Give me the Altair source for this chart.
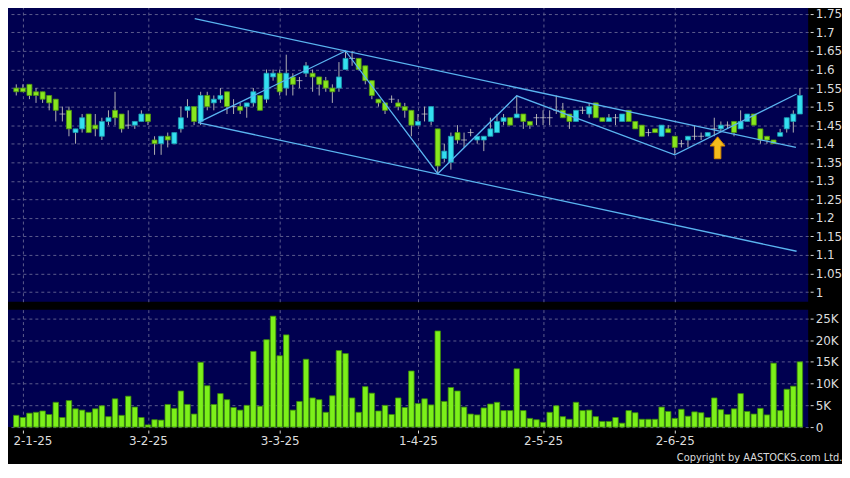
import json
import altair as alt
import pandas as pd

# ---------------- data ----------------
OPEN = [1.55, 1.55, 1.56, 1.54, 1.54, 1.53, 1.52, 1.48, 1.49, 1.43,
        1.44, 1.48, 1.45, 1.42, 1.46, 1.49, 1.48, 1.45, 1.45, 1.46,
        1.48, 1.41, 1.40, 1.42, 1.40, 1.44, 1.49, 1.50, 1.46, 1.53,
        1.51, 1.52, 1.54, 1.50, 1.50, 1.50, 1.51, 1.53, 1.52, 1.58,
        1.59, 1.55, 1.58, 1.57, 1.59, 1.59, 1.58, 1.57, 1.55, 1.55,
        1.60, 1.63, 1.63, 1.61, 1.57, 1.52, 1.51, 1.52, 1.51, 1.50,
        1.49, 1.45, 1.48, 1.46, 1.44, 1.36, 1.35, 1.43, 1.41, 1.43,
        1.41, 1.41, 1.42, 1.43, 1.46, 1.47, 1.47, 1.48, 1.46, 1.47,
        1.47, 1.47, 1.49, 1.49, 1.48, 1.46, 1.49, 1.48, 1.51, 1.47,
        1.46, 1.47, 1.46, 1.49, 1.46, 1.45, 1.43, 1.44, 1.42, 1.44,
        1.42, 1.40, 1.41, 1.42, 1.42, 1.42, 1.44, 1.44, 1.45, 1.46,
        1.44, 1.46, 1.48, 1.44, 1.42, 1.41, 1.42, 1.44, 1.46, 1.48]
HIGH = [1.56, 1.56, 1.56, 1.55, 1.54, 1.53, 1.52, 1.50, 1.50, 1.44,
        1.48, 1.48, 1.48, 1.47, 1.49, 1.54, 1.48, 1.49, 1.46, 1.49,
        1.48, 1.42, 1.42, 1.43, 1.43, 1.50, 1.52, 1.50, 1.54, 1.54,
        1.53, 1.55, 1.54, 1.52, 1.51, 1.51, 1.55, 1.53, 1.60, 1.60,
        1.60, 1.64, 1.59, 1.58, 1.62, 1.60, 1.58, 1.58, 1.56, 1.62,
        1.65, 1.65, 1.63, 1.61, 1.57, 1.52, 1.51, 1.53, 1.52, 1.51,
        1.49, 1.48, 1.50, 1.50, 1.44, 1.40, 1.43, 1.45, 1.43, 1.44,
        1.42, 1.42, 1.47, 1.48, 1.48, 1.47, 1.53, 1.48, 1.46, 1.48,
        1.49, 1.49, 1.53, 1.51, 1.48, 1.49, 1.50, 1.51, 1.51, 1.47,
        1.48, 1.48, 1.48, 1.49, 1.46, 1.45, 1.44, 1.44, 1.45, 1.45,
        1.42, 1.41, 1.42, 1.45, 1.43, 1.43, 1.47, 1.46, 1.46, 1.46,
        1.49, 1.48, 1.48, 1.44, 1.42, 1.41, 1.44, 1.47, 1.49, 1.55]
LOW = [1.53, 1.54, 1.52, 1.51, 1.51, 1.49, 1.46, 1.46, 1.42, 1.40,
       1.43, 1.43, 1.42, 1.41, 1.45, 1.45, 1.43, 1.44, 1.44, 1.46,
       1.45, 1.37, 1.37, 1.39, 1.40, 1.43, 1.47, 1.45, 1.45, 1.49,
       1.49, 1.51, 1.48, 1.48, 1.48, 1.47, 1.50, 1.49, 1.51, 1.57,
       1.53, 1.53, 1.53, 1.55, 1.58, 1.54, 1.53, 1.54, 1.51, 1.54,
       1.60, 1.61, 1.60, 1.56, 1.52, 1.50, 1.48, 1.51, 1.49, 1.47,
       1.42, 1.45, 1.46, 1.45, 1.32, 1.35, 1.33, 1.40, 1.39, 1.42,
       1.40, 1.38, 1.42, 1.43, 1.45, 1.45, 1.47, 1.44, 1.44, 1.45,
       1.45, 1.45, 1.48, 1.47, 1.44, 1.46, 1.48, 1.47, 1.47, 1.46,
       1.46, 1.45, 1.46, 1.46, 1.44, 1.42, 1.42, 1.43, 1.42, 1.43,
       1.37, 1.39, 1.39, 1.41, 1.41, 1.42, 1.42, 1.43, 1.44, 1.42,
       1.44, 1.46, 1.45, 1.40, 1.40, 1.40, 1.42, 1.43, 1.43, 1.48]
CLOSE = [1.54, 1.54, 1.53, 1.53, 1.52, 1.51, 1.49, 1.48, 1.44, 1.44,
         1.47, 1.43, 1.44, 1.46, 1.47, 1.47, 1.44, 1.45, 1.46, 1.48,
         1.46, 1.40, 1.42, 1.41, 1.43, 1.47, 1.50, 1.46, 1.53, 1.50,
         1.52, 1.53, 1.50, 1.50, 1.49, 1.51, 1.54, 1.49, 1.59, 1.59,
         1.54, 1.59, 1.56, 1.57, 1.61, 1.58, 1.56, 1.55, 1.54, 1.58,
         1.63, 1.63, 1.60, 1.57, 1.53, 1.51, 1.49, 1.52, 1.50, 1.49,
         1.45, 1.46, 1.48, 1.50, 1.34, 1.38, 1.42, 1.41, 1.41, 1.43,
         1.42, 1.42, 1.44, 1.46, 1.47, 1.45, 1.48, 1.46, 1.45, 1.47,
         1.47, 1.47, 1.49, 1.47, 1.46, 1.49, 1.49, 1.50, 1.47, 1.46,
         1.47, 1.47, 1.48, 1.46, 1.44, 1.42, 1.43, 1.43, 1.45, 1.43,
         1.39, 1.40, 1.42, 1.42, 1.42, 1.43, 1.44, 1.45, 1.45, 1.43,
         1.46, 1.48, 1.45, 1.41, 1.41, 1.40, 1.43, 1.47, 1.48, 1.53]
VOLUME = [2700, 2200, 3200, 3400, 3700, 2900, 5700, 2200, 6100, 4200,
          3900, 3400, 4200, 4900, 2400, 6500, 2700, 7100, 4600, 2200,
          500, 1700, 1600, 5200, 4300, 8300, 5200, 3000, 14900, 9500,
          5200, 7700, 6300, 4500, 3900, 5000, 17400, 4800, 20100, 25500,
          16400, 21200, 3900, 5900, 15600, 6700, 6300, 3400, 7200, 17600,
          16900, 6700, 3400, 9300, 7800, 3700, 5000, 2900, 6700, 4500,
          12900, 5400, 6500, 5100, 22100, 5900, 9100, 8300, 4600, 3000,
          2800, 4400, 5300, 5700, 3800, 3800, 13400, 3800, 2000, 1700,
          1100, 3400, 4900, 2400, 1800, 5700, 3800, 3900, 2400, 1300,
          1300, 2200, 900, 3800, 3300, 1800, 1800, 1800, 4600, 3600,
          2000, 4100, 2500, 3500, 3300, 2200, 6700, 4000, 2900, 4200,
          7700, 3600, 3000, 4300, 2800, 14700, 3800, 8700, 9400, 15000]

TICK_POS = [1, 20, 40, 61, 80, 100]
TICK_TEXT = ["2-1-25", "3-2-25", "3-3-25", "1-4-25", "2-5-25", "2-6-25"]
PRICE_TICKS = [1.0, 1.05, 1.1, 1.15, 1.2, 1.25, 1.3, 1.35, 1.4, 1.45, 1.5,
               1.55, 1.6, 1.65, 1.7, 1.75]
VOLUME_TICKS = [0, 5000, 10000, 15000, 20000, 25000]

# trend lines (bar position, price)
LINE_ID = ["upper", "upper", "lower", "lower",
           "zig", "zig", "zig", "zig", "zig", "zig"]
LINE_X = [27.1, 118.4, 27.6, 118.5, 27.6, 50.0, 64.0, 76.0, 100.0, 118.5]
LINE_P = [1.737, 1.390, 1.457, 1.110, 1.457, 1.650, 1.319, 1.529, 1.370, 1.534]

ARROW_X = [106.5]
ARROW_P = [1.389]

# ---------------- styling ----------------
BG = "#000000"
PLOT_BG = "#000050"
GRID = "#5c5c8c"
TEXT = "#dcdcdc"
UP_FILL, UP_STROKE = "#34dff0", "#1a9db0"
DN_FILL, DN_STROKE = "#88e61e", "#4f960e"
VOL_FILL, VOL_STROKE = "#7cf01a", "#3a8a08"
LINE_COLOR = "#5ab4f0"

W = 804
H_PRICE = 297
H_VOL = 118

n = len(OPEN)
df = pd.DataFrame({"i": list(range(n)), "open": OPEN, "high": HIGH, "low": LOW,
                   "close": CLOSE, "volume": VOLUME})
df["dir"] = ["up" if c > o else ("down" if c < o else "flat")
             for o, c in zip(OPEN, CLOSE)]

lines_df = pd.DataFrame({"line": LINE_ID, "x": LINE_X, "p": LINE_P})
arrow_df = pd.DataFrame({"x": ARROW_X, "p": ARROW_P})

x_scale = alt.Scale(domain=[-0.5, n - 0.5], nice=False, zero=False)
y_price = alt.Scale(domain=[0.974, 1.771], nice=False, zero=False)
y_vol = alt.Scale(domain=[0, 27000], nice=False)

x_axis_price = alt.Axis(values=TICK_POS, labels=False, ticks=False, domain=False,
                        grid=True, gridColor=GRID, gridDash=[3, 3], title=None)
y_axis_price = alt.Axis(orient="right", values=PRICE_TICKS, format=".2~f",
                        grid=True, gridColor=GRID, gridDash=[3, 3], domain=False,
                        ticks=True, tickSize=3, tickColor=TEXT, offset=2,
                        labelPadding=2, labelColor=TEXT, labelFontSize=12,
                        labelFont="DejaVu Sans", title=None)

first_tick = "datum.value == {}".format(TICK_POS[0])
label_expr = "{}[indexof({}, datum.value)]".format(json.dumps(TICK_TEXT).replace('"', "'"),
                                                   json.dumps(TICK_POS))
x_axis_vol = alt.Axis(values=TICK_POS, labelExpr=label_expr, grid=True, gridColor=GRID,
                      gridDash=[3, 3], domain=False, ticks=True, tickSize=3,
                      tickColor=TEXT, offset=3, labelPadding=2, labelColor=TEXT,
                      labelFontSize=12, labelFont="DejaVu Sans", labelFlush=False,
                      labelOverlap=False,
                      labelAlign={"condition": {"test": first_tick, "value": "left"},
                                  "value": "center"},
                      labelOffset={"condition": {"test": first_tick, "value": -10},
                                   "value": 0},
                      title="Copyright by AASTOCKS.com Ltd.", titleColor=TEXT,
                      titleFont="DejaVu Sans Condensed", titleFontSize=11,
                      titleFontWeight="normal", titleAlign="right", titleAnchor="start",
                      titleX=838, titleY=31, titleBaseline="alphabetic")
y_axis_vol = alt.Axis(orient="right", values=VOLUME_TICKS,
                      labelExpr="datum.value == 0 ? '0' : (datum.value / 1000) + 'K'",
                      grid=True, gridColor=GRID, gridDash=[3, 3], domain=False,
                      ticks=True, tickSize=3, tickColor=TEXT, offset=2, labelPadding=2,
                      labelColor=TEXT, labelFontSize=12, labelFont="DejaVu Sans",
                      title=None)

base = alt.Chart(df)
X = alt.X("i:Q", scale=x_scale, axis=x_axis_price)

wicks = base.mark_rule(color="#b0b0b0", strokeWidth=1).encode(
    x=X,
    y=alt.Y("low:Q", scale=y_price, axis=y_axis_price),
    y2="high:Q",
)
bodies = base.transform_filter("datum.dir != 'flat'").mark_bar(size=5, strokeWidth=0.8).encode(
    x=X,
    y=alt.Y("open:Q", scale=y_price, axis=y_axis_price),
    y2="close:Q",
    color=alt.Color("dir:N", scale=alt.Scale(domain=["up", "down"], range=[UP_FILL, DN_FILL]),
                    legend=None),
    stroke=alt.Stroke("dir:N", scale=alt.Scale(domain=["up", "down"],
                                               range=[UP_STROKE, DN_STROKE]), legend=None),
)
dojis = base.transform_filter("datum.dir == 'flat'").mark_tick(
    color="#d0d0d0", thickness=1, size=6, orient="horizontal").encode(
    x=X,
    y=alt.Y("close:Q", scale=y_price, axis=y_axis_price),
)
trend = alt.Chart(lines_df).mark_line(color=LINE_COLOR, strokeWidth=1.3).encode(
    x=alt.X("x:Q", scale=x_scale, axis=x_axis_price),
    y=alt.Y("p:Q", scale=y_price, axis=y_axis_price),
    detail="line:N",
)
ARROW_PATH = "M0,-1 L0.68,-0.16 L0.3,-0.16 L0.3,1 L-0.3,1 L-0.3,-0.16 L-0.68,-0.16 Z"
arrow = alt.Chart(arrow_df).mark_point(shape=ARROW_PATH, filled=True, size=484,
                                       color="#f5bc1c", stroke="#d68a00",
                                       strokeWidth=1, opacity=1).encode(
    x=alt.X("x:Q", scale=x_scale, axis=x_axis_price),
    y=alt.Y("p:Q", scale=y_price, axis=y_axis_price),
)

price = alt.layer(wicks, bodies, dojis, trend, arrow).properties(width=W, height=H_PRICE)

volume = alt.Chart(df).mark_bar(size=5.5, color=VOL_FILL, stroke=VOL_STROKE,
                                strokeWidth=0.8).encode(
    x=alt.X("i:Q", scale=x_scale, axis=x_axis_vol),
    y=alt.Y("volume:Q", scale=y_vol, axis=y_axis_vol),
).properties(width=W, height=H_VOL)

chart = alt.vconcat(price, volume, spacing=8).properties(
    background=BG,
    padding={"left": 0, "top": -3, "right": 0, "bottom": 0},
).configure_view(fill=PLOT_BG, strokeWidth=0)

chart.save("out.html", embed_options={"renderer": "svg", "actions": False})
